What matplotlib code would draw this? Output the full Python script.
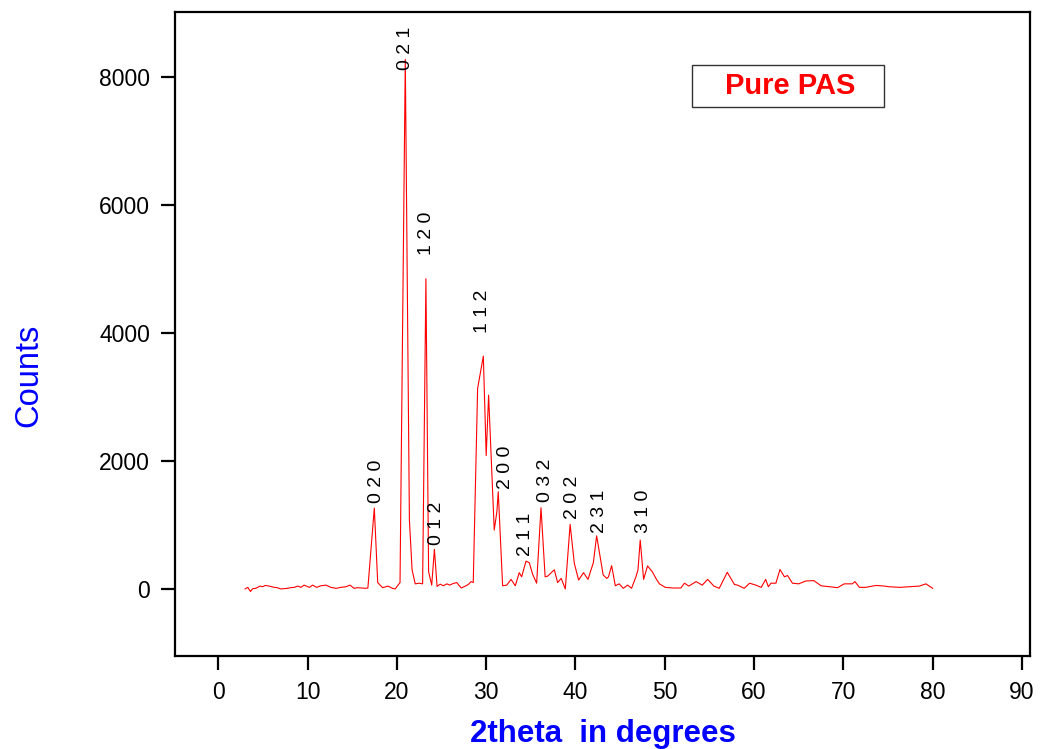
import matplotlib.pyplot as plt
from matplotlib.patches import Rectangle

plt.rcParams['font.family'] = ['Liberation Sans', 'DejaVu Sans']

# XRD pattern
two_theta = [3.0, 3.3, 3.6, 3.85, 4.2, 4.67, 4.96, 5.26, 5.7, 6.27, 6.6, 7.0, 7.4, 7.76,
             8.1, 8.5, 8.9, 9.26, 9.6, 10.2, 10.56, 11.0, 11.5, 12.06, 12.6, 13.2, 13.7,
             14.3, 14.75, 15.2, 15.6, 16.0, 16.5, 16.75, 17.47, 17.85, 18.4, 19.0, 19.5,
             19.8, 20.35, 20.94, 21.4, 21.7, 22.05, 22.5, 22.88, 23.25, 23.55, 23.9, 24.2,
             24.5, 24.85, 25.2, 25.6, 25.9, 26.3, 26.7, 27.2, 27.6, 28.0, 28.3, 28.55,
             29.04, 29.68, 30.0, 30.27, 30.9, 31.2, 31.35, 31.58, 31.84, 32.3, 32.78,
             33.26, 33.7, 33.97, 34.46, 34.83, 35.2, 35.65, 36.14, 36.6, 36.88, 37.63,
             38.0, 38.4, 38.86, 39.4, 39.87, 40.35, 40.9, 41.4, 42.0, 42.37, 43.1, 43.5,
             43.7, 44.05, 44.46, 44.9, 45.35, 45.84, 46.28, 46.77, 47.0, 47.25, 47.63,
             48.07, 48.6, 49.07, 49.4, 50.06, 50.9, 51.8, 52.2, 52.7, 53.5, 54.2, 54.8,
             55.5, 56.1, 57.0, 57.8, 58.15, 58.9, 59.5, 60.2, 60.8, 61.3, 61.6, 61.9,
             62.45, 62.9, 63.4, 63.75, 64.3, 65.0, 65.8, 66.7, 67.5, 68.4, 69.35, 70.1,
             71.0, 71.3, 71.8, 72.5, 73.65, 74.6, 75.1, 76.3, 77.4, 78.5, 79.25, 80.0]
counts = [0, 25, -40, 5, 10, 45, 35, 55, 45, 25, 20, 0, 5, 10,
          20, 25, 45, 25, 60, 25, 60, 25, 50, 60, 25, 10, 25,
          35, 60, 10, 20, 15, 10, 15, 1265, 100, 20, 45, 10,
          0, 100, 8280, 1080, 300, 80, 90, 80, 4850, 270, 60, 620,
          40, 75, 50, 80, 60, 85, 100, 15, 40, 70, 115, 100,
          3135, 3640, 2085, 3030, 920, 1210, 1520, 820, 50, 60, 150,
          50, 255, 190, 435, 410, 230, 90, 1270, 190, 200, 300,
          100, 165, 0, 1010, 400, 140, 255, 150, 410, 830, 220, 165,
          190, 365, 50, 80, 10, 60, 10, 190, 300, 765, 150,
          360, 270, 150, 80, 25, 15, 15, 90, 45, 115, 60, 150,
          45, 10, 260, 70, 60, 10, 90, 60, 25, 150, 35, 90,
          90, 305, 190, 210, 90, 80, 125, 130, 50, 35, 20, 80,
          80, 115, 25, 25, 55, 45, 35, 25, 35, 45, 80, 10]

# Miller index labels
hkl_labels = ['0 2 0', '0 2 1', '1 2 0', '0 1 2', '1 1 2', '2 0 0', '2 1 1',
              '0 3 2', '2 0 2', '2 3 1', '3 1 0']
hkl_x = [17.66, 20.94, 23.26, 24.45, 29.6, 32.14, 34.38, 36.62, 39.68, 42.67, 47.63]
hkl_y = [1345, 8110, 5220, 680, 3995, 1570, 515, 1365, 1090, 880, 870]

fig = plt.figure(figsize=(10.43, 7.49), dpi=100)
ax = fig.add_axes([0.1678, 0.124, 0.8197, 0.86])

ax.plot(two_theta, counts, color='red', linewidth=0.8)

for lab, x, y in zip(hkl_labels, hkl_x, hkl_y):
    ax.text(x, y, lab, rotation=90, ha='center', va='bottom', fontsize=14)

ax.set_xlim(-4.85, 90.9)
ax.set_ylim(-1050, 9020)
ax.set_xticks(range(0, 91, 10))
ax.set_yticks([0, 2000, 4000, 6000, 8000])

ax.tick_params(direction='out', length=10, width=1.6, labelsize=16.5, pad=8,
               top=False, right=False)
for s in ax.spines.values():
    s.set_linewidth(1.6)

ax.set_xlabel('2theta  in degrees', color='blue', fontsize=22.5, fontweight='bold',
              labelpad=11)
ax.set_ylabel('Counts', color='blue', fontsize=23.5)
ax.yaxis.set_label_coords(-0.153, 0.436)

# legend-like box
ax.add_patch(Rectangle((0.6043, 0.853), 0.2247, 0.0647, transform=ax.transAxes,
                       fill=False, edgecolor='#333333', linewidth=1.0))
ax.text(0.643, 0.885, 'Pure PAS', transform=ax.transAxes, color='red',
        fontsize=21, fontweight='bold', va='center', ha='left')

fig.savefig('out.png', dpi=100)
